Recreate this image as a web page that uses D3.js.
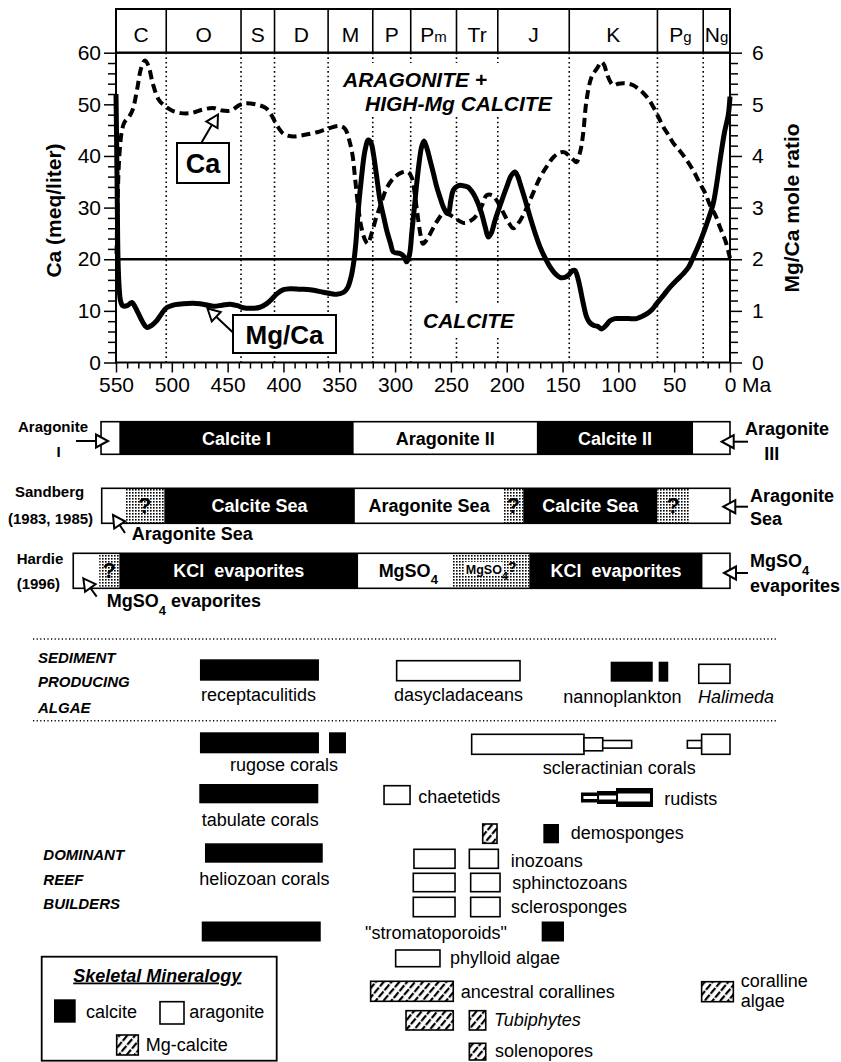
<!DOCTYPE html>
<html>
<head>
<meta charset="utf-8">
<script src="https://cdn.jsdelivr.net/npm/d3@7"></script>
<style>
  body { margin: 0; background: #fff; }
  svg text { font-family: "Liberation Sans", Arial, Helvetica, sans-serif; fill: #000; }
</style>
</head>
<body>
<svg id="chart" width="841" height="1062"></svg>
<script>
// ---------- data ----------
// geologic periods: [label, small suffix, start Ma, end Ma]
const periods = [
  ["C", "", 550, 505], ["O", "", 505, 438], ["S", "", 438, 408], ["D", "", 408, 360],
  ["M", "", 360, 320], ["P", "", 320, 286], ["P", "m", 286, 245], ["Tr", "", 245, 208],
  ["J", "", 208, 144], ["K", "", 144, 65], ["P", "g", 65, 24], ["N", "g", 24, 0]
];

const ageTicks = [550, 500, 450, 400, 350, 300, 250, 200, 150, 100, 50, 0];
const caTicks = [0, 10, 20, 30, 40, 50, 60];
const mgTicks = [0, 1, 2, 3, 4, 5, 6];

// seawater Ca concentration, meq/liter: [age Ma, value]
const caSeries = [
  [549.5, 21], [548.5, 32], [547, 40], [545, 44.5], [542.5, 46.5], [538.5, 47.5], [535, 49],
  [531, 53], [527.5, 57], [524, 58.5], [521, 57.5], [517, 54], [512, 51], [507, 49.8],
  [500, 48.8], [492, 48.3], [483, 48.3], [472, 49], [463, 49.3], [455, 48.8], [447, 48.8],
  [440, 49.8], [435, 50.2], [425, 50], [416, 49.3], [411, 48], [406, 46], [400, 44.3],
  [393, 43.8], [383, 44], [370, 44.6], [360, 45.3], [350, 45.8], [345, 45.3], [341, 43],
  [338, 40], [336, 36], [333, 30], [330, 26], [327, 23.8], [324.5, 23], [321, 25], [317, 28],
  [313.5, 30.2], [307, 34], [300, 36], [294, 36.8], [288.5, 36.9], [285, 35.8], [282, 32],
  [279.5, 28], [277, 24.5], [275, 23], [271, 24], [266, 26], [262, 27.5], [256, 29],
  [251, 28.6], [246, 27.9], [238, 27], [232, 27.5], [227, 28.5], [222, 30.5], [218, 32.4],
  [213, 32.4], [209, 31.4], [203, 29], [198, 27], [194, 26], [188, 27.5], [182, 30],
  [176, 33], [170, 35.9], [164, 38], [158, 39.8], [152, 40.7], [148, 40.7], [144, 40],
  [140.5, 39.3], [137.5, 38.8], [134, 41], [131.5, 44.4], [128.5, 50.8], [124, 55.3],
  [119, 57], [115, 58.2], [112.5, 57.5], [110.4, 56], [107, 54.3], [104.5, 53.7], [100, 54],
  [95.6, 54.1], [91, 54], [86.6, 53.7], [82, 53], [77.7, 52.2], [73, 51], [68.7, 49.5],
  [64, 47.5], [59.7, 45.6], [55, 44], [50.8, 42.5], [45, 41], [38.8, 39.2], [33, 37.2],
  [27, 34.7], [22, 32.7], [18, 30.5], [13, 28.5], [9, 26.2], [4, 23.5], [0, 20.2]
];

// seawater Mg/Ca mole ratio: [age Ma, value]
const mgCaSeries = [
  [550, 5.2], [549.4, 4.2], [548.8, 3.0], [548.2, 2.0], [547.3, 1.5], [546, 1.2], [544, 1.1],
  [540, 1.1], [537, 1.15], [535.5, 1.16], [533, 1.08], [530, 0.95], [526, 0.78], [522.5, 0.68],
  [518, 0.72], [513.5, 0.81], [509, 0.95], [504.6, 1.06], [497, 1.12], [489.7, 1.14],
  [474.7, 1.14], [462.8, 1.09], [455, 1.11], [447.8, 1.13], [441, 1.1], [436, 1.06],
  [428, 1.05], [421, 1.07], [415, 1.14], [410, 1.24], [406, 1.33], [400, 1.41], [394, 1.43],
  [385, 1.42], [376, 1.41], [364.3, 1.36], [357, 1.33], [352.3, 1.32], [346, 1.36],
  [342.5, 1.45], [339.5, 1.65], [337, 1.95], [335, 2.35], [333, 2.95], [330.5, 3.5],
  [327, 4.1], [324, 4.31], [321.5, 4.25], [319.5, 4.05], [316.5, 3.6], [313.5, 3.14],
  [310, 2.8], [307.5, 2.56], [304, 2.3], [301.6, 2.14], [295.6, 2.11], [292, 2.05],
  [289.6, 1.95], [287, 2.1], [285.1, 2.5], [282.5, 3.05], [280.6, 3.47], [278, 3.95],
  [276.2, 4.18], [274.1, 4.29], [271.5, 4.15], [268.7, 3.92], [265.5, 3.65], [262.7, 3.4],
  [259.5, 3.18], [256.8, 3.01], [254, 2.9], [252.3, 2.88], [250, 3.15], [247.8, 3.34],
  [244, 3.42], [240.3, 3.43], [235, 3.4], [229.9, 3.27], [226, 3.1], [222.4, 2.88],
  [219, 2.6], [216.5, 2.43], [214, 2.5], [210.5, 2.75], [205, 3.1], [200, 3.4], [196, 3.62],
  [192.6, 3.69], [190, 3.6], [188.1, 3.47], [183.5, 3.15], [179.1, 2.82], [174.5, 2.5],
  [170.2, 2.24], [165.5, 2.02], [161.2, 1.85], [157, 1.73], [152.3, 1.65], [148, 1.65],
  [144.8, 1.69], [141, 1.78], [138.8, 1.78], [136.5, 1.65], [134.4, 1.46], [131.5, 1.15],
  [128.4, 0.88], [125.5, 0.77], [122.4, 0.72], [118.5, 0.7], [114.9, 0.65], [111, 0.72],
  [107.5, 0.81], [103, 0.85], [98.5, 0.85], [91, 0.85], [83.6, 0.85], [79, 0.89],
  [74.6, 0.94], [70, 1.02], [65.7, 1.14], [60, 1.29], [53.7, 1.46], [47.5, 1.6], [41.8, 1.72],
  [37, 1.85], [32.9, 2.04], [28.5, 2.25], [23.9, 2.5], [19.5, 2.77], [15, 3.08], [12, 3.45],
  [9, 3.9], [5, 4.45], [1.5, 4.8], [0, 5.15]
];

// Mg/Ca = 2 boundary between calcite and aragonite seas
const seaThreshold = 2;

// intervals: [label, kind, from Ma, to Ma]   kind: C calcite, A aragonite, Q uncertain
const carbonateEpochs = [
  ["", "A", 563.4, 547], ["Calcite I", "C", 547, 337], ["Aragonite II", "A", 337, 173],
  ["Calcite II", "C", 173, 33], ["", "A", 33, 0]
];
const sandbergSeas = [
  ["", "A", 562.8, 542], ["?", "Q", 542, 506.7], ["Calcite Sea", "C", 506.7, 336],
  ["Aragonite Sea", "A", 336, 203], ["?", "Q", 203, 185.2], ["Calcite Sea", "C", 185.2, 65],
  ["?", "Q", 65, 36.5], ["", "A", 36.5, 0]
];
const hardieEvaporites = [
  ["", "A", 588.3, 565], ["?", "Q", 565, 547], ["KCl  evaporites", "C", 547, 333],
  ["MgSO4", "A", 333, 248.8], ["MgSO4?", "Q", 248.8, 179.8],
  ["KCl  evaporites", "C", 179.8, 24.5], ["", "A", 24.5, 0]
];

// taxon ranges: [from Ma, to Ma, mineralogy, abundance]  (C calcite, A aragonite, M Mg-calcite, R rudist bimineralic)
const sedimentAlgae = [
  { name: "receptaculitids", parts: [[474.8, 368.2, "C", 3]] },
  { name: "dasycladaceans", parts: [[298.6, 188.1, "A", 3]] },
  { name: "nannoplankton", parts: [[106.9, 69.2, "C", 3], [63.9, 55.3, "C", 3]] },
  { name: "Halimeda", parts: [[28, 0, "A", 3]] }
];
const reefBuilders = [
  { name: "rugose corals", parts: [[474.8, 368.2, "C", 3], [359.2, 344, "C", 3]] },
  { name: "scleractinian corals", parts: [[231.4, 130.8, "A", 3], [130.8, 114, "A", 2], [114, 88.1, "A", 1], [38.2, 25.4, "A", 1], [25.4, 0, "A", 3]] },
  { name: "tabulate corals", parts: [[475.4, 368.8, "C", 3]] },
  { name: "chaetetids", parts: [[309.9, 286.6, "A", 3]] },
  { name: "rudists", parts: [[133.5, 119.1, "R", 1], [119.1, 102.1, "R", 2], [102.1, 69, "R", 3]] },
  { name: "demosponges", parts: [[221.5, 208.7, "M", 3], [167.2, 153.2, "C", 3]] },
  { name: "heliozoan corals", parts: [[470.3, 364.8, "C", 3]] },
  { name: "inozoans", parts: [[283.1, 246.3, "A", 3], [233.5, 207.5, "A", 3]] },
  { name: "sphinctozoans", parts: [[283.7, 246.3, "A", 3], [232.3, 206, "A", 3]] },
  { name: "sclerosponges", parts: [[283.7, 246.3, "A", 3], [232.3, 206, "A", 3]] },
  { name: "\"stromatoporoids\"", parts: [[473.2, 366.6, "C", 3], [168.7, 148.7, "C", 3]] },
  { name: "phylloid algae", parts: [[299.5, 259.8, "A", 3]] },
  { name: "ancestral corallines", parts: [[321.9, 247.9, "M", 3]] },
  { name: "Tubiphytes", parts: [[290.2, 247.9, "M", 3], [233.5, 218.8, "M", 3]] },
  { name: "solenopores", parts: [[233.5, 218.8, "M", 3]] },
  { name: "coralline algae", parts: [[25.4, -3, "M", 3]] }
];

// ---------- layout ----------
const svg = d3.select("#chart");
const x = d3.scaleLinear().domain([550, 0]).range([116, 730]);
const yCa = d3.scaleLinear().domain([0, 60]).range([362.5, 52.7]);
const yMg = d3.scaleLinear().domain([0, 6]).range([362.5, 52.7]);
const headerTop = 9, plotTop = yCa(60), plotBottom = yCa(0);

const defs = svg.append("defs");
const stip = defs.append("pattern").attr("id", "stipple").attr("patternUnits", "userSpaceOnUse")
  .attr("width", 3).attr("height", 3);
stip.append("rect").attr("width", 3).attr("height", 3).attr("fill", "#fff");
stip.append("rect").attr("width", 1.6).attr("height", 1.6).attr("fill", "#000");
// diagonal "////" fill for Mg-calcite
const hatch = defs.append("pattern").attr("id", "hatch").attr("patternUnits", "userSpaceOnUse")
  .attr("width", 6).attr("height", 9).attr("patternTransform", "rotate(40)");
hatch.append("rect").attr("width", 6).attr("height", 9).attr("fill", "#fff");
hatch.append("rect").attr("width", 2.2).attr("height", 7.5).attr("fill", "#000");

function txt(g, s, px, py, opt = {}) {
  const t = g.append("text").attr("x", px).attr("y", py)
    .attr("font-size", opt.size || 18)
    .attr("font-weight", opt.bold ? "bold" : "normal")
    .attr("font-style", opt.italic ? "italic" : "normal")
    .attr("text-anchor", opt.anchor || "start")
    .text(s);
  if (opt.fill) t.style("fill", opt.fill);
  return t;
}

function openArrow(g, x1, y1, x2, y2, len = 12, half = 6.5) {
  const a = Math.atan2(y2 - y1, x2 - x1);
  const bx = x2 - len * Math.cos(a), by = y2 - len * Math.sin(a);
  g.append("line").attr("x1", x1).attr("y1", y1).attr("x2", bx).attr("y2", by)
    .attr("stroke", "#000").attr("stroke-width", 2);
  const px = -Math.sin(a) * half, py = Math.cos(a) * half;
  g.append("path").attr("d", `M${x2},${y2}L${bx + px},${by + py}L${bx - px},${by - py}Z`)
    .attr("fill", "#fff").attr("stroke", "#000").attr("stroke-width", 2);
}

// ---------- period header ----------
const hdr = svg.append("g");
hdr.append("rect").attr("x", x(550)).attr("y", headerTop).attr("width", x(0) - x(550))
  .attr("height", plotTop - headerTop).attr("fill", "#fff").attr("stroke", "#000").attr("stroke-width", 2);
periods.forEach(p => {
  if (p[2] < 550) {
    hdr.append("line").attr("x1", x(p[2])).attr("x2", x(p[2])).attr("y1", headerTop).attr("y2", plotTop)
      .attr("stroke", "#000").attr("stroke-width", 1.6);
  }
  const t = txt(hdr, p[0], (x(p[2]) + x(p[3])) / 2, 41.5, { size: 21, anchor: "middle" });
  if (p[1]) t.append("tspan").attr("font-size", 15).text(p[1]);
});

// ---------- plot ----------
const plot = svg.append("g");
periods.forEach(p => {
  if (p[2] < 550) {
    plot.append("line").attr("x1", x(p[2])).attr("x2", x(p[2])).attr("y1", plotTop).attr("y2", plotBottom)
      .attr("stroke", "#000").attr("stroke-width", 1.6).attr("stroke-dasharray", "1.6,3");
  }
});
// clear space behind the field names
plot.append("rect").attr("x", 338).attr("y", 63).attr("width", 220).attr("height", 54).attr("fill", "#fff");
plot.append("rect").attr("x", 416).attr("y", 303).attr("width", 104).attr("height", 35).attr("fill", "#fff");
txt(plot, "ARAGONITE +", 343, 87, { size: 21, bold: true, italic: true });
txt(plot, "HIGH-Mg CALCITE", 365, 111, { size: 21, bold: true, italic: true });
txt(plot, "CALCITE", 423, 328, { size: 21, bold: true, italic: true });

plot.append("line").attr("x1", x(550)).attr("x2", x(0))
  .attr("y1", yMg(seaThreshold)).attr("y2", yMg(seaThreshold))
  .attr("stroke", "#000").attr("stroke-width", 2.6);

const caLine = d3.line().x(d => x(d[0])).y(d => yCa(d[1])).curve(d3.curveCatmullRom.alpha(0.5));
const mgLine = d3.line().x(d => x(d[0])).y(d => yMg(d[1])).curve(d3.curveCatmullRom.alpha(0.5));
plot.append("path").attr("d", caLine(caSeries)).attr("fill", "none").attr("stroke", "#000")
  .attr("stroke-width", 4).attr("stroke-dasharray", "9,5");
plot.append("path").attr("d", mgLine(mgCaSeries)).attr("fill", "none").attr("stroke", "#000")
  .attr("stroke-width", 5).attr("stroke-linejoin", "round");

// series labels
plot.append("rect").attr("x", 177).attr("y", 143).attr("width", 52).attr("height", 40)
  .attr("fill", "#fff").attr("stroke", "#000").attr("stroke-width", 2);
txt(plot, "Ca", 203, 172.5, { size: 27, bold: true, anchor: "middle" });
openArrow(plot, 201, 143.5, 218, 114.5);
plot.append("rect").attr("x", 233).attr("y", 315).attr("width", 103).attr("height", 38)
  .attr("fill", "#fff").attr("stroke", "#000").attr("stroke-width", 2);
txt(plot, "Mg/Ca", 284.5, 343.5, { size: 26, bold: true, anchor: "middle" });
openArrow(plot, 233.5, 333, 207.5, 308.5);

// frame and axes
plot.append("rect").attr("x", x(550)).attr("y", plotTop).attr("width", x(0) - x(550))
  .attr("height", plotBottom - plotTop).attr("fill", "none").attr("stroke", "#000").attr("stroke-width", 2);

function styleAxis(g) {
  g.select(".domain").remove();
  g.selectAll(".tick line").attr("stroke", "#000").attr("stroke-width", 1.5);
  g.selectAll(".tick text").attr("font-size", 21).attr("font-family", null).style("fill", "#000");
}
const axL = svg.append("g").attr("transform", `translate(${x(550)},0)`);
axL.append("g").call(d3.axisLeft(yCa).tickValues(d3.range(0, 61, 2).filter(v => v % 10)).tickSize(8).tickFormat(() => "")).call(styleAxis);
axL.append("g").call(d3.axisLeft(yCa).tickValues(caTicks).tickSize(12).tickPadding(3).tickFormat(d3.format("d"))).call(styleAxis);

const axR = svg.append("g").attr("transform", `translate(${x(0)},0)`);
axR.append("g").call(d3.axisRight(yMg).tickValues(d3.range(0, 31).filter(i => i % 5).map(i => i / 5)).tickSize(8).tickFormat(() => "")).call(styleAxis);
axR.append("g").call(d3.axisRight(yMg).tickValues(mgTicks).tickSize(12).tickPadding(10).tickFormat(d3.format("d"))).call(styleAxis);

const axB = svg.append("g").attr("transform", `translate(0,${plotBottom})`);
axB.append("g").call(d3.axisBottom(x).tickValues(d3.range(0, 551, 10).filter(v => v % 50)).tickSize(6).tickFormat(() => "")).call(styleAxis);
axB.append("g").call(d3.axisBottom(x).tickValues(ageTicks).tickSize(10).tickPadding(5).tickFormat(d3.format("d"))).call(styleAxis);
txt(svg, "Ma", 742, 392, { size: 21 });

txt(svg, "Ca (meq/liter)", 0, 0, { size: 21, bold: true, anchor: "middle" })
  .attr("transform", "translate(60.5,210.5) rotate(-90)");
txt(svg, "Mg/Ca mole ratio", 0, 0, { size: 21, bold: true, anchor: "middle" })
  .attr("transform", "translate(799,208) rotate(-90)");

// ---------- mineralogy interpretation bars ----------
const bars = svg.append("g");
function drawBar(rows, y0, h) {
  rows.forEach(r => {
    const x0 = x(r[2]), x1 = x(r[3]);
    bars.append("rect").attr("x", x0).attr("y", y0).attr("width", x1 - x0).attr("height", h)
      .attr("fill", r[1] === "C" ? "#000" : r[1] === "Q" ? "url(#stipple)" : "#fff");
    const cx = (x0 + x1) / 2, cy = y0 + h / 2;
    if (r[0] === "?") {
      txt(bars, "?", cx, cy + 7.5, { size: 22, bold: true, anchor: "middle" });
    } else if (r[0] === "MgSO4?") {
      bars.append("rect").attr("x", cx - 26).attr("y", cy - 9).attr("width", 38).attr("height", 13).attr("fill", "#fff");
      const t = txt(bars, "MgSO", cx - 25, cy + 3, { size: 12.5, bold: true });
      t.append("tspan").attr("dy", 6).attr("font-size", 11).text("4");
      t.append("tspan").attr("dy", -8).attr("font-size", 14).text("?");
    } else if (r[0] === "MgSO4") {
      const t = txt(bars, "MgSO", cx + 3, cy + 6.5, { size: 18, bold: true, anchor: "middle" });
      t.append("tspan").attr("dy", 7).attr("font-size", 13).text("4");
    } else if (r[0]) {
      txt(bars, r[0], cx, cy + 6.5, { size: 18, bold: true, anchor: "middle", fill: r[1] === "C" ? "#fff" : "#000" })
        .style("white-space", "pre");
    }
  });
  const xa = x(rows[0][2]), xb = x(rows[rows.length - 1][3]);
  bars.append("rect").attr("x", xa).attr("y", y0).attr("width", xb - xa).attr("height", h)
    .attr("fill", "none").attr("stroke", "#000").attr("stroke-width", 1.6);
}
drawBar(carbonateEpochs, 421.7, 32.6);
drawBar(sandbergSeas, 488.3, 35);
drawBar(hardieEvaporites, 553.3, 35);

txt(bars, "Aragonite", 18, 431.5, { size: 15, bold: true });
txt(bars, "I", 58.7, 456.5, { size: 15, bold: true, anchor: "middle" });
openArrow(bars, 76, 441, 108, 441);
txt(bars, "Aragonite", 745, 435, { size: 18, bold: true });
txt(bars, "III", 771.7, 459.5, { size: 18, bold: true, anchor: "middle" });
openArrow(bars, 748, 441.7, 721.7, 441.7);

txt(bars, "Sandberg", 15, 497, { size: 15, bold: true });
txt(bars, "(1983, 1985)", 8, 523.5, { size: 15, bold: true });
txt(bars, "Aragonite Sea", 131.7, 539.5, { size: 18, bold: true });
openArrow(bars, 125, 533, 113, 515);
txt(bars, "Aragonite", 750, 501.5, { size: 18, bold: true });
txt(bars, "Sea", 750, 524.5, { size: 18, bold: true });
openArrow(bars, 748, 506.7, 723.3, 506.7);

txt(bars, "Hardie", 16.7, 563.7, { size: 15, bold: true });
txt(bars, "(1996)", 16.7, 588.7, { size: 15, bold: true });
{
  const t = txt(bars, "MgSO", 106.7, 606.5, { size: 18, bold: true });
  t.append("tspan").attr("dy", 8).attr("font-size", 13).text("4");
  t.append("tspan").attr("dy", -8).text(" evaporites");
}
openArrow(bars, 96.7, 596.7, 83.3, 578.3);
{
  const t = txt(bars, "MgSO", 750, 567, { size: 18, bold: true });
  t.append("tspan").attr("dy", 8).attr("font-size", 13).text("4");
}
txt(bars, "evaporites", 750, 592, { size: 18, bold: true });
openArrow(bars, 748, 573, 724, 573);

// ---------- biota ----------
const bio = svg.append("g");
[639, 720.7].forEach(yy => bio.append("line").attr("x1", 33).attr("x2", 778).attr("y1", yy).attr("y2", yy)
  .attr("stroke", "#000").attr("stroke-width", 1.4).attr("stroke-dasharray", "1.2,2.4"));

txt(bio, "SEDIMENT", 38, 662.7, { size: 15, bold: true, italic: true });
txt(bio, "PRODUCING", 38, 687, { size: 15, bold: true, italic: true });
txt(bio, "ALGAE", 38, 712.7, { size: 15, bold: true, italic: true });
txt(bio, "DOMINANT", 43.3, 860.4, { size: 15, bold: true, italic: true });
txt(bio, "REEF", 43.3, 885.4, { size: 15, bold: true, italic: true });
txt(bio, "BUILDERS", 43.3, 908.7, { size: 15, bold: true, italic: true });

// row placement: bar top, bar height, label x, label baseline
const rowLayout = {
  "receptaculitids": [659.3, 21.4, 201, 701],
  "dasycladaceans": [660.7, 20, 394, 701],
  "nannoplankton": [661.7, 20, 563.3, 703],
  "Halimeda": [664.3, 19, 698, 703, true],
  "rugose corals": [732.3, 21, 230, 771],
  "scleractinian corals": [734.3, 20, 542.7, 774],
  "tabulate corals": [784, 19.3, 201.7, 826],
  "chaetetids": [785.7, 18.6, 418.3, 803],
  "rudists": [788, 19, 664.3, 805],
  "demosponges": [824, 19.3, 570.7, 839],
  "heliozoan corals": [843.3, 19.4, 199.3, 885],
  "inozoans": [849.3, 19, 510.7, 866.5],
  "sphinctozoans": [873.3, 18.4, 512.3, 889],
  "sclerosponges": [897.3, 19.4, 511, 912.5],
  "\"stromatoporoids\"": [921.5, 20, 365, 938.5],
  "phylloid algae": [950, 16.7, 450, 963.5],
  "ancestral corallines": [981.3, 20, 460.7, 998],
  "Tubiphytes": [1010.7, 19.3, 494, 1026, true],
  "solenopores": [1043.3, 16.7, 495, 1057],
  "coralline algae": [981.7, 20, 740.7, 987]
};
const levelFrac = { 1: 0.38, 2: 0.65, 3: 1 };
const rudistOuter = { 1: 10, 2: 13, 3: 19 }, rudistInner = { 1: 3, 2: 4, 3: 8 };

function drawTaxon(t) {
  const [by, bh, lx, ly, ital] = rowLayout[t.name];
  const cy = by + bh / 2;
  t.parts.forEach((p, i) => {
    const x0 = x(p[0]), x1 = x(p[1]);
    if (p[2] === "R") {
      const ho = rudistOuter[p[3]], hi = rudistInner[p[3]];
      bio.append("rect").attr("x", x0).attr("y", cy - ho / 2).attr("width", x1 - x0).attr("height", ho).attr("fill", "#000");
      const il = i === 0 ? x0 + 2.5 : x0 + 2, ir = i === t.parts.length - 1 ? x1 - 3 : x1;
      bio.append("rect").attr("x", il).attr("y", cy - hi / 2).attr("width", ir - il).attr("height", hi).attr("fill", "#fff");
      return;
    }
    const h = bh * levelFrac[p[3]];
    const r = bio.append("rect").attr("x", x0).attr("y", cy - h / 2).attr("width", x1 - x0).attr("height", h);
    if (p[2] === "C") r.attr("fill", "#000");
    else r.attr("fill", p[2] === "M" ? "url(#hatch)" : "#fff").attr("stroke", "#000").attr("stroke-width", 1.6);
  });
  if (t.name === "coralline algae") {
    txt(bio, "coralline", lx, ly, { size: 18 });
    txt(bio, "algae", lx, ly + 20, { size: 18 });
  } else {
    txt(bio, t.name, lx, ly, { size: 18, italic: !!ital });
  }
}
sedimentAlgae.forEach(drawTaxon);
reefBuilders.forEach(drawTaxon);

// ---------- legend ----------
const lg = svg.append("g");
lg.append("rect").attr("x", 41.7).attr("y", 956.7).attr("width", 235).attr("height", 104)
  .attr("fill", "#fff").attr("stroke", "#000").attr("stroke-width", 1.8);
txt(lg, "Skeletal Mineralogy", 73.3, 981.5, { size: 18, bold: true, italic: true }).attr("text-decoration", "underline");
lg.append("rect").attr("x", 54).attr("y", 999.3).attr("width", 21.7).attr("height", 23.4).attr("fill", "#000");
txt(lg, "calcite", 86, 1017.5, { size: 18 });
lg.append("rect").attr("x", 160).attr("y", 1001.7).attr("width", 24).attr("height", 22.3)
  .attr("fill", "#fff").attr("stroke", "#000").attr("stroke-width", 1.6);
txt(lg, "aragonite", 189.3, 1017.5, { size: 18 });
lg.append("rect").attr("x", 116.7).attr("y", 1035).attr("width", 21.6).attr("height", 20)
  .attr("fill", "url(#hatch)").attr("stroke", "#000").attr("stroke-width", 1.6);
txt(lg, "Mg-calcite", 145.7, 1050.5, { size: 18 });
</script>
</body>
</html>
